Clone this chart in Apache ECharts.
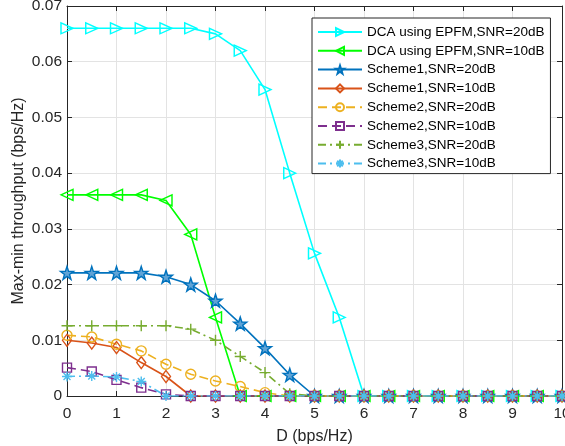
<!DOCTYPE html>
<html>
<head>
<meta charset="utf-8">
<script src="https://cdn.jsdelivr.net/npm/echarts@6/dist/echarts.min.js"></script>
<style>
  html, body { margin: 0; padding: 0; background: #fff; }
  #chart { width: 565px; height: 446px; }
</style>
</head>
<body>
<div id="chart"></div>
<script>
// D (bps/Hz) sample points
const dValues = [0, 0.5, 1, 1.5, 2, 2.5, 3, 3.5, 4, 4.5, 5, 5.5, 6, 6.5, 7, 7.5, 8, 8.5, 9, 9.5, 10]

// max-min throughput
const dca20 = [0.066, 0.066, 0.066, 0.066, 0.066, 0.066, 0.065, 0.062, 0.055, 0.040, 0.0256, 0.0141, 0, 0, 0, 0, 0, 0, 0, 0, 0]
const dca10 = [0.0361, 0.0361, 0.0361, 0.0361, 0.0351, 0.029, 0.0141, 0, 0, 0, 0, 0, 0, 0, 0, 0, 0, 0, 0, 0, 0]
const scheme1Snr20 = [0.0221, 0.0221, 0.0221, 0.0221, 0.0214, 0.0200, 0.0171, 0.0130, 0.0086, 0.0038, 0, 0, 0, 0, 0, 0, 0, 0, 0, 0, 0]
const scheme1Snr10 = [0.0100, 0.0095, 0.0087, 0.0060, 0.0035, 0, 0, 0, 0, 0, 0, 0, 0, 0, 0, 0, 0, 0, 0, 0, 0]
const scheme2Snr20 = [0.0109, 0.0106, 0.0093, 0.0081, 0.0057, 0.0039, 0.0027, 0.0017, 0.0006, 0, 0, 0, 0, 0, 0, 0, 0, 0, 0, 0, 0]
const scheme2Snr10 = [0.0051, 0.0044, 0.0029, 0.0015, 0.0003, 0, 0, 0, 0, 0, 0, 0, 0, 0, 0, 0, 0, 0, 0, 0, 0]
const scheme3Snr20 = [0.0126, 0.0126, 0.0126, 0.0126, 0.0126, 0.0120, 0.0100, 0.0071, 0.0042, 0.0004, 0, 0, 0, 0, 0, 0, 0, 0, 0, 0, 0]
const scheme3Snr10 = [0.0035, 0.0036, 0.0034, 0.0026, 0, 0, 0, 0, 0, 0, 0, 0, 0, 0, 0, 0, 0, 0, 0, 0, 0]

const seriesNames = [
  'DCA using EPFM,SNR=20dB',
  'DCA using EPFM,SNR=10dB',
  'Scheme1,SNR=20dB',
  'Scheme1,SNR=10dB',
  'Scheme2,SNR=20dB',
  'Scheme2,SNR=10dB',
  'Scheme3,SNR=20dB',
  'Scheme3,SNR=10dB'
]

const yTicks = [0, 0.01, 0.02, 0.03, 0.04, 0.05, 0.06, 0.07]

const FONT = 'Liberation Sans, Arial, Helvetica, sans-serif'
const AXIS_COLOR = '#262626'
const HOLLOW = 'rgba(255,255,255,0)'

// marker shapes (MATLAB style)
const STAR = 'path://M50,0 L61.8,35.1 L98.1,35.1 L68.8,56.7 L79.4,91 L50,70 L20.6,91 L31.2,56.7 L1.9,35.1 L38.2,35.1 Z'
const PLUS = 'path://M5,0 L5,10 M0,5 L10,5'
const ASTERISK = 'path://M5,0 L5,10 M0,5 L10,5 M1.5,1.5 L8.5,8.5 M8.5,1.5 L1.5,8.5'

const pairs = (ys) => dValues.map((d, i) => [d, ys[i]])

const makeSeries = (name, ys, color, opts) => ({
  name,
  type: 'line',
  data: pairs(ys),
  xAxisIndex: 0,
  yAxisIndex: 0,
  symbol: opts.symbol,
  symbolSize: opts.size,
  symbolRotate: opts.rotate || 0,
  showAllSymbol: true,
  animation: false,
  lineStyle: { color, width: 1.6, type: opts.dash || 'solid' },
  itemStyle: {
    color: opts.fill || HOLLOW,
    borderColor: color,
    borderWidth: 1.4
  },
  emphasis: { disabled: true }
})

const series = [
  makeSeries(seriesNames[0], dca20, '#00ffff', { symbol: 'triangle', size: [11, 12], rotate: -90 }),
  makeSeries(seriesNames[1], dca10, '#00ff00', { symbol: 'triangle', size: [11, 12], rotate: 90 }),
  makeSeries(seriesNames[2], scheme1Snr20, '#0072bd', { symbol: STAR, size: 13, fill: '#5fa3d6' }),
  makeSeries(seriesNames[3], scheme1Snr10, '#d95319', { symbol: 'diamond', size: [9, 12] }),
  makeSeries(seriesNames[4], scheme2Snr20, '#edb120', { symbol: 'circle', size: 10, dash: [9, 5] }),
  makeSeries(seriesNames[5], scheme2Snr10, '#7e2f8e', { symbol: 'rect', size: 9, dash: [9, 5] }),
  makeSeries(seriesNames[6], scheme3Snr20, '#77ac30', { symbol: PLUS, size: 11, dash: [8, 4, 2, 4] }),
  makeSeries(seriesNames[7], scheme3Snr10, '#4dbeee', { symbol: ASTERISK, size: 10, dash: [8, 4, 2, 4] })
]

const chart = echarts.init(document.getElementById('chart'))

chart.setOption({
  backgroundColor: '#ffffff',
  animation: false,
  textStyle: { fontFamily: FONT },
  grid: { left: 67, right: 3, top: 6, bottom: 50, containLabel: false, outerBoundsMode: 'none' },
  legend: {
    data: seriesNames,
    orient: 'vertical',
    left: 312,
    top: 18,
    width: 237,
    padding: [7, 6, 3, 5],
    itemWidth: 44,
    itemHeight: 10,
    itemGap: 4.8,
    borderColor: AXIS_COLOR,
    borderWidth: 1,
    backgroundColor: '#ffffff',
    selectedMode: false,
    textStyle: { fontFamily: FONT, fontSize: 13.5, lineHeight: 14, color: '#000000' }
  },
  xAxis: [
    {
      type: 'value',
      min: 0,
      max: 10,
      interval: 1,
      position: 'bottom',
      name: 'D (bps/Hz)',
      nameLocation: 'middle',
      nameGap: 33,
      nameMoveOverlap: false,
      nameTextStyle: { fontFamily: FONT, fontSize: 16, color: AXIS_COLOR },
      axisLine: { show: true, onZero: false, lineStyle: { color: AXIS_COLOR, width: 1 } },
      axisTick: { show: true, inside: true, length: 5, lineStyle: { color: AXIS_COLOR } },
      axisLabel: { fontFamily: FONT, fontSize: 15.5, color: AXIS_COLOR, margin: 10 },
      splitLine: { show: true, lineStyle: { color: '#e3e3e3', width: 1 } }
    },
    {
      type: 'value',
      min: 0,
      max: 10,
      interval: 1,
      position: 'top',
      axisLine: { show: true, onZero: false, lineStyle: { color: AXIS_COLOR, width: 1 } },
      axisTick: { show: true, inside: true, length: 5, lineStyle: { color: AXIS_COLOR } },
      axisLabel: { show: false },
      splitLine: { show: false }
    }
  ],
  yAxis: [
    {
      type: 'value',
      min: yTicks[0],
      max: yTicks[yTicks.length - 1],
      interval: 0.01,
      position: 'left',
      name: 'Max-min throughput (bps/Hz)',
      nameLocation: 'middle',
      nameGap: 40,
      nameMoveOverlap: false,
      nameTextStyle: { fontFamily: FONT, fontSize: 16, color: AXIS_COLOR },
      axisLine: { show: true, onZero: false, lineStyle: { color: AXIS_COLOR, width: 1 } },
      axisTick: { show: true, inside: true, length: 5, lineStyle: { color: AXIS_COLOR } },
      axisLabel: {
        fontFamily: FONT,
        fontSize: 15.5,
        color: AXIS_COLOR,
        margin: 5,
        formatter: (v) => {
          const t = yTicks.find((y) => Math.abs(y - v) < 1e-9)
          return t === undefined ? '' : String(t)
        }
      },
      splitLine: { show: true, lineStyle: { color: '#e3e3e3', width: 1 } }
    },
    {
      type: 'value',
      min: yTicks[0],
      max: yTicks[yTicks.length - 1],
      interval: 0.01,
      position: 'right',
      axisLine: { show: true, onZero: false, lineStyle: { color: AXIS_COLOR, width: 1 } },
      axisTick: { show: true, inside: true, length: 5, lineStyle: { color: AXIS_COLOR } },
      axisLabel: { show: false },
      splitLine: { show: false }
    }
  ],
  series
})
</script>
</body>
</html>
